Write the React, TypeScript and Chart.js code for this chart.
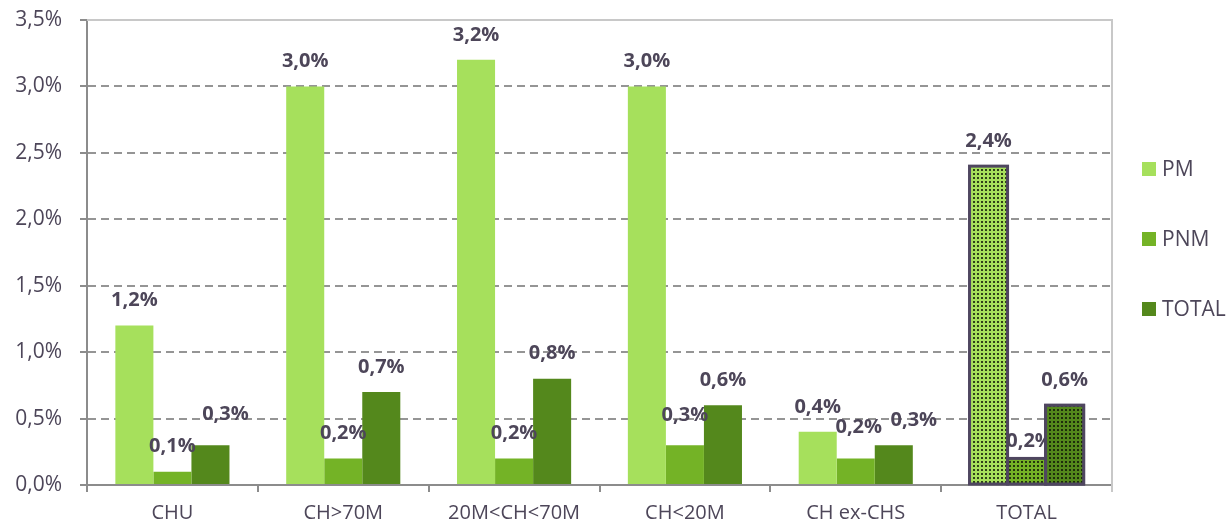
import React, { useEffect, useRef } from "react";
import { Chart, registerables } from "chart.js";

Chart.register(...registerables);

// ---- data ----
const categories = ["CHU", "CH>70M", "20M<CH<70M", "CH<20M", "CH ex-CHS", "TOTAL"];
const seriesNames = ["PM", "PNM", "TOTAL"];
const pmValues = [1.2, 3.0, 3.2, 3.0, 0.4, 2.4];
const pnmValues = [0.1, 0.2, 0.2, 0.3, 0.2, 0.2];
const totalValues = [0.3, 0.7, 0.8, 0.6, 0.3, 0.6];
const yTickValues = [0, 0.5, 1.0, 1.5, 2.0, 2.5, 3.0, 3.5];

// ---- styles ----
const seriesColors = ["#a6e05c", "#74b326", "#54881c"];
const dotColor = "rgba(16,24,8,0.8)";
const highlightBorder = "#4f4660";
const textColor = "#4d4659";
const gridColor = "#959595";
const axisColor = "#8c8c8c";
const frameColor = "#c8c8c8";
const FONT = "'Open Sans', 'Noto Sans', sans-serif";

// label nudges "dataset-category" -> [dx, dy above bar top]
const defaultNudge: [number, number] = [0, 25];
const labelNudges: Record<string, [number, number]> = {
  "2-0": [15, 31],
  "1-3": [0, 30],
  "1-4": [3, 31],
  "2-4": [20, 25],
  "1-5": [3, 17],
};
// labels that sit underneath the following bar
const underLabels = ["1-5"];

const fmt = (v: number) => v.toFixed(1).replace(".", ",") + "%";

function makePattern(base: string): CanvasPattern | string {
  const c = document.createElement("canvas");
  c.width = 4;
  c.height = 4;
  const x = c.getContext("2d");
  if (!x) return base;
  x.fillStyle = base;
  x.fillRect(0, 0, 4, 4);
  x.fillStyle = dotColor;
  x.fillRect(1, 1, 2, 2);
  return x.createPattern(c, "repeat") || base;
}

export default function App() {
  const ref = useRef<HTMLCanvasElement | null>(null);

  useEffect(() => {
    if (!ref.current) return;
    const highlightIdx = categories.length - 1;
    const values = [pmValues, pnmValues, totalValues];

    const datasets = values.map((vals, si) => {
      const pat = makePattern(seriesColors[si]);
      return {
        label: seriesNames[si],
        data: vals,
        backgroundColor: vals.map((_, i) => (i === highlightIdx ? pat : seriesColors[si])),
        borderWidth: 0,
        categoryPercentage: 0.668,
        barPercentage: 1.0,
      };
    });

    const strokeBar = (ctx: CanvasRenderingContext2D, bar: any) => {
      const p = bar.getProps(["x", "y", "base", "width"], true);
      ctx.save();
      ctx.strokeStyle = highlightBorder;
      ctx.lineWidth = 3;
      ctx.strokeRect(p.x - p.width / 2, p.y, p.width, p.base - p.y);
      ctx.restore();
    };

    const drawLabel = (chart: any, di: number, i: number) => {
      const ctx = chart.ctx;
      const bar = chart.getDatasetMeta(di).data[i];
      const key = `${di}-${i}`;
      const [dx, dy] = labelNudges[key] || defaultNudge;
      ctx.save();
      ctx.font = `bold 20px ${FONT}`;
      ctx.fillStyle = textColor;
      ctx.textAlign = "center";
      ctx.textBaseline = "middle";
      ctx.fillText(fmt(chart.data.datasets[di].data[i]), bar.x + dx, bar.y - dy);
      ctx.restore();
    };

    const customPlugin = {
      id: "custom",
      beforeDatasetsDraw(chart: any) {
        const { ctx, chartArea } = chart;
        ctx.save();
        ctx.strokeStyle = frameColor;
        ctx.lineWidth = 2;
        ctx.beginPath();
        ctx.moveTo(chartArea.left, chartArea.top);
        ctx.lineTo(chartArea.right, chartArea.top);
        ctx.lineTo(chartArea.right, chartArea.bottom + 7);
        ctx.stroke();
        ctx.restore();
      },
      afterDatasetsDraw(chart: any) {
        const ctx = chart.ctx;
        const n = chart.data.datasets.length;
        for (let di = 0; di < n; di++) strokeBar(ctx, chart.getDatasetMeta(di).data[highlightIdx]);
        underLabels.forEach((k) => {
          const [di, i] = k.split("-").map(Number);
          drawLabel(chart, di, i);
          if (di + 1 < n) {
            const nb = chart.getDatasetMeta(di + 1).data[i];
            nb.draw(ctx);
            if (i === highlightIdx) strokeBar(ctx, nb);
          }
        });
        for (let di = 0; di < n; di++) {
          const meta = chart.getDatasetMeta(di);
          meta.data.forEach((_: any, i: number) => {
            if (underLabels.includes(`${di}-${i}`)) return;
            drawLabel(chart, di, i);
          });
        }
      },
      afterDraw(chart: any) {
        const ctx = chart.ctx;
        ctx.save();
        const centers = [169, 239, 309];
        ctx.font = `21px ${FONT}`;
        ctx.textBaseline = "middle";
        ctx.textAlign = "left";
        seriesNames.forEach((name, i) => {
          ctx.fillStyle = seriesColors[i];
          ctx.fillRect(1142, centers[i] - 7, 14, 14);
          ctx.fillStyle = textColor;
          ctx.fillText(name, 1162, centers[i] + 1);
        });
        ctx.restore();
      },
    };

    const chart = new Chart(ref.current, {
      type: "bar",
      data: { labels: categories, datasets: datasets as any },
      options: {
        animation: false,
        responsive: false,
        devicePixelRatio: 1,
        layout: { padding: { left: 0, top: 20, right: 116, bottom: 0 } },
        plugins: { legend: { display: false }, tooltip: { enabled: false } },
        scales: {
          x: {
            afterFit: (s: any) => {
              s.height = 41;
              s.paddingLeft = 0;
              s.paddingRight = 0;
            },
            grid: {
              drawOnChartArea: false,
              drawTicks: true,
              tickLength: 7,
              color: axisColor,
              lineWidth: 2,
              offset: true,
            },
            border: { display: true, color: axisColor, width: 2 },
            ticks: {
              color: textColor,
              font: { family: FONT, size: 20 },
              padding: 9,
              maxRotation: 0,
              autoSkip: false,
            },
          },
          y: {
            min: 0,
            max: 3.5,
            afterFit: (s: any) => {
              s.width = 87;
              s.paddingTop = 0;
              s.paddingBottom = 0;
            },
            afterBuildTicks: (s: any) => {
              s.ticks = yTickValues.map((v) => ({ value: v }));
            },
            grid: {
              color: (c: any) =>
                c.tick && (c.tick.value === 0 || c.tick.value === 3.5) ? "rgba(0,0,0,0)" : gridColor,
              tickColor: axisColor,
              lineWidth: 2,
              tickLength: 7,
              tickBorderDash: [],
            } as any,
            border: { display: true, color: axisColor, width: 2, dash: [8, 5] },
            ticks: {
              color: textColor,
              font: { family: FONT, size: 21 },
              padding: 18,
              callback: (v: any) => fmt(Number(v)),
            },
          },
        },
      },
      plugins: [customPlugin],
    });

    return () => chart.destroy();
  }, []);

  return (
    <div style={{ position: "fixed", left: 0, top: 0, width: 1228, height: 526, background: "#fff" }}>
      <canvas ref={ref} width={1228} height={526} style={{ display: "block" }} />
    </div>
  );
}
